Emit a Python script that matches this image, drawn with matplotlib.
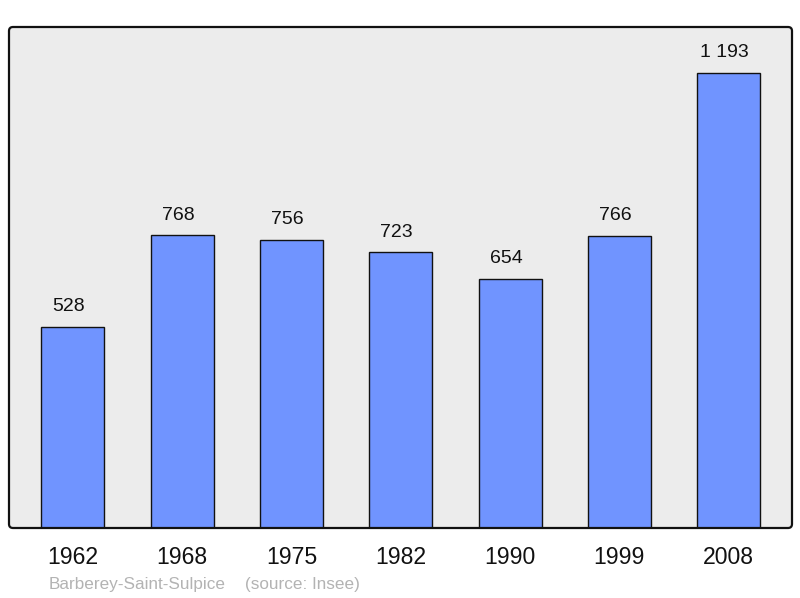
import matplotlib.pyplot as plt
from matplotlib.patches import FancyBboxPatch

plt.rcParams['font.family'] = ['Liberation Sans', 'DejaVu Sans']

# Population data
years = ["1962", "1968", "1975", "1982", "1990", "1999", "2008"]
population = [528, 768, 756, 723, 654, 766, 1193]
value_labels = ["528", "768", "756", "723", "654", "766", "1 193"]

fig = plt.figure(figsize=(8, 5.98), dpi=100)
ax = fig.add_axes([9 / 800, 70 / 598, 783 / 800, 501 / 598])
ax.patch.set_visible(False)
for s in ax.spines.values():
    s.set_visible(False)

# rounded panel behind and frame on top
x0, y0 = 9 / 100, 70 / 100
w, h = 783 / 100, 501 / 100
bg = FancyBboxPatch((x0, y0), w, h, boxstyle="round,pad=0,rounding_size=0.04",
                    transform=fig.dpi_scale_trans, facecolor="#ececec",
                    edgecolor="none", zorder=-1)
frame = FancyBboxPatch((x0, y0), w, h, boxstyle="round,pad=0,rounding_size=0.04",
                       transform=fig.dpi_scale_trans, facecolor="none",
                       edgecolor="#111111", linewidth=1.6, zorder=5)
fig.patches.extend([bg, frame])

pos = range(len(years))
ax.bar(pos, population, width=0.576, color="#7094ff", edgecolor="#111111", linewidth=1.0)

for i, (v, lab) in enumerate(zip(population, value_labels)):
    ax.annotate(lab, (i, v), xytext=(-3, 14.5), textcoords="offset points",
                ha="center", va="center", fontsize=14, color="#111111")

ax.set_xlim(-0.585, 6.58)
ax.set_ylim(0, 1314)
ax.set_xticks(list(pos))
ax.set_xticklabels(years, fontsize=16.6, color="#111111")
ax.tick_params(axis="x", length=0, pad=13)
ax.set_yticks([])

fig.text(49 / 800, 1 - 584 / 598, "Barberey-Saint-Sulpice", fontsize=12.3,
         color="#b3b3b3", va="center", ha="left")
fig.text(245 / 800, 1 - 584 / 598, "(source: Insee)", fontsize=12.3,
         color="#b3b3b3", va="center", ha="left")

plt.savefig("out.png", dpi=100)
